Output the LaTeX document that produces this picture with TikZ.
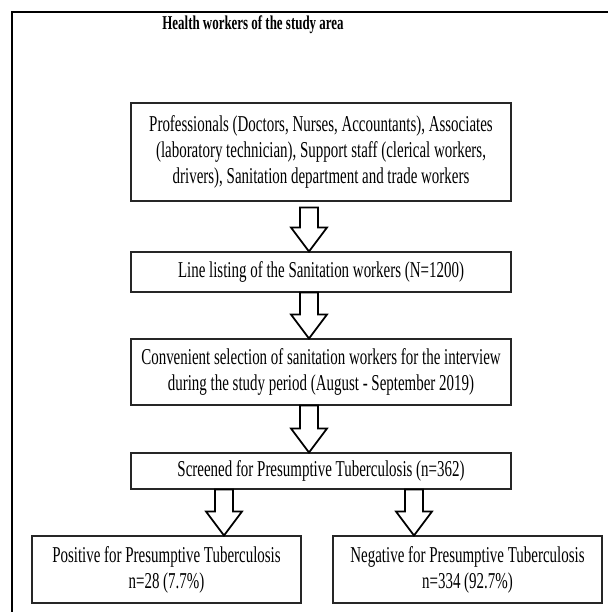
\documentclass[tikz,border=0pt]{standalone}
\usepackage{fontspec}
\setmainfont[FakeStretch=0.66]{Liberation Serif}
\usepackage{tikz}
\usetikzlibrary{calc}

\tikzset{
    flowbox/.style={draw=black!85, line width=0.8pt, align=center, inner sep=0pt,
        font=\fontsize{17}{19.5}\selectfont},
    blockarr/.style={draw=black, line width=1.3pt, fill=white, line join=miter},
}
% hollow down arrow: #1 = top of shaft, #2 = tip
\newcommand{\hollowarrow}[2]{%
    \draw[blockarr] ($(#1)+(-9,0)$) -- ($(#1)+(9,0)$) -- ($(#2)+(9,-24)$) -- ($(#2)+(18,-24)$)
        -- (#2) -- ($(#2)+(-18,-24)$) -- ($(#2)+(-9,-24)$) -- cycle;}

\begin{document}
\begin{tikzpicture}[x=0.75pt,y=0.75pt,yscale=-1,xscale=1]
    \useasboundingbox (0,0) rectangle (608,612);

    % outer frame (cut by the page at right and bottom)
    \draw [line width=1.5pt] (12,612) -- (12,12) -- (608,12);

    % Title
    \node (title) at (253,25) {\fontsize{14.7}{17}\selectfont\bfseries Health workers of the study area};

    % Boxes
    \node [flowbox, minimum width=285pt, minimum height=73.5pt] (staff) at (321,152)
        {Professionals (Doctors, Nurses, Accountants), Associates\\
        (laboratory technician), Support staff (clerical workers,\\
        drivers), Sanitation department and trade workers};
    \node [flowbox, minimum width=285pt, minimum height=30pt] (listing) at (321,272)
        {Line listing of the Sanitation workers (N=1200)};
    \node [flowbox, minimum width=285pt, minimum height=49.5pt] (selection) at (321,372)
        {Convenient selection of sanitation workers for the interview\\
        during the study period (August - September 2019)};
    \node [flowbox, minimum width=285pt, minimum height=27pt] (screened) at (321,471)
        {Screened for Presumptive Tuberculosis (n=362)};
    \node [flowbox, minimum width=201.75pt, minimum height=50.25pt] (positive) at (166.5,569.5)
        {Positive for Presumptive Tuberculosis\\ n=28 (7.7\%)};
    \node [flowbox, minimum width=201.75pt, minimum height=50.25pt] (negative) at (467.5,569.5)
        {Negative for Presumptive Tuberculosis\\ n=334 (92.7\%)};

    % Arrows
    \coordinate (a1) at ($(staff.south -| 309,0)+(0,6)$);
    \hollowarrow{a1}{listing.north -| 309,0}
    \hollowarrow{listing.south -| 309,0}{selection.north -| 309,0}
    \hollowarrow{selection.south -| 309,0}{screened.north -| 309,0}
    \hollowarrow{screened.south -| 224,0}{positive.north -| 224,0}
    \hollowarrow{screened.south -| 414,0}{negative.north -| 414,0}

\end{tikzpicture}
\end{document}
